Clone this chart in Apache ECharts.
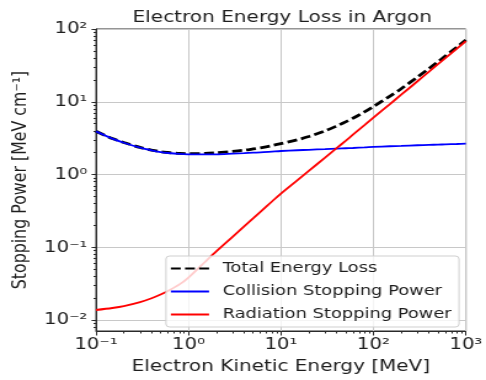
<!DOCTYPE html>
<html>
<head>
<meta charset="utf-8">
<script src="https://cdn.jsdelivr.net/npm/echarts@6/dist/echarts.min.js"></script>
<style>
  html, body { margin: 0; padding: 0; background: #ffffff; overflow: hidden; }
  /* the figure is laid out at a narrower width and widened to 486px */
  #chart { width: 395px; height: 380px; transform: scaleX(1.2304); transform-origin: 0 0; }
</style>
</head>
<body>
<div id="chart"></div>
<script>
// Electron kinetic energy (MeV)
const energyMeV = [0.1, 0.15, 0.2, 0.3, 0.4, 0.5, 0.6, 0.8, 1, 1.5, 2, 3, 4, 5, 6, 8,
  10, 15, 20, 30, 40, 50, 60, 80, 100, 150, 200, 300, 400, 500, 600, 800, 1000];

// Stopping powers in liquid argon (MeV cm^-1)
const totalLoss = [3.93, 3.13, 2.76, 2.36, 2.17, 2.06, 2.01, 1.95, 1.94, 1.95, 1.99, 2.08, 2.16, 2.25, 2.33, 2.50,
  2.66, 3.00, 3.33, 3.98, 4.65, 5.30, 5.95, 7.25, 8.60, 11.9, 15.1, 21.9, 28.6, 35.5, 42.4, 56.4, 70.7];
const collisionPower = [3.92, 3.12, 2.74, 2.34, 2.15, 2.04, 1.98, 1.92, 1.90, 1.89, 1.90, 1.94, 1.97, 2.00, 2.02, 2.07,
  2.11, 2.16, 2.19, 2.24, 2.28, 2.30, 2.32, 2.36, 2.40, 2.45, 2.48, 2.53, 2.56, 2.58, 2.60, 2.63, 2.66];
const radiationPower = [0.0138, 0.0147, 0.0156, 0.0177, 0.0200, 0.0225, 0.0252, 0.0310, 0.0385, 0.0625, 0.0879, 0.1395, 0.194, 0.250, 0.308, 0.427,
  0.549, 0.835, 1.125, 1.71, 2.305, 2.91, 3.53, 4.77, 6.04, 9.25, 12.5, 19.15, 25.9, 32.8, 39.7, 53.7, 68.0];

const seriesNames = ['Total Energy Loss', 'Collision Stopping Power', 'Radiation Stopping Power'];
const seriesColors = ['#000000', '#0000ff', '#ff0000'];

// Axis ranges and labelled decades
const xRange = [0.1, 1000];
const yRange = [0.0071, 100];
const xMajorTicks = [0.1, 1, 10, 100, 1000];
const yMajorTicks = [0.01, 0.1, 1, 10, 100];

// minor ticks at 2..9 times each decade inside the range
function minorTicks(lo, hi) {
  const out = [];
  for (let e = -3; e <= 3; e++) {
    for (let k = 2; k <= 9; k++) {
      const v = k * Math.pow(10, e);
      if (v > lo * 1.0001 && v < hi * 0.9999) out.push(v);
    }
  }
  return out;
}
const xMinorTicks = minorTicks(xRange[0], xRange[1]);
const yMinorTicks = minorTicks(yRange[0], yRange[1]);

const SUP = { '-': '\u207B', '0': '\u2070', '1': '\u00B9', '2': '\u00B2', '3': '\u00B3' };
function powerLabel(v) {
  const e = Math.round(Math.log10(v));
  return '10' + String(e).split('').map(c => SUP[c]).join('');
}

const FONT = 'DejaVu Sans';
const INK = '#1e1e1e';
const SPINE = '#2a2a2a';
const GRID = '#c8c8c8';

function pairs(ys) { return energyMeV.map((e, i) => [e, ys[i]]); }

function majorAxis(dim, range, ticks, extra) {
  return Object.assign({
    type: 'log', logBase: 10, min: range[0], max: range[1], gridIndex: 0,
    axisLine: { show: true, onZero: false, lineStyle: { color: SPINE, width: 1 } },
    axisTick: { show: true, customValues: ticks, length: dim === 'x' ? 4.5 : 3.6, lineStyle: { color: SPINE, width: 1 } },
    axisLabel: { customValues: ticks, formatter: powerLabel, fontSize: 16, color: INK, fontFamily: FONT },
    splitLine: { show: true, lineStyle: { color: GRID, width: 1 } },
    minorTick: { show: false }, minorSplitLine: { show: false }
  }, extra);
}
function minorAxis(range, ticks, position, len) {
  return {
    type: 'log', logBase: 10, min: range[0], max: range[1], gridIndex: 0, position: position,
    axisLine: { show: false },
    axisTick: { show: true, customValues: ticks, length: len, lineStyle: { color: SPINE, width: 1 } },
    axisLabel: { show: false },
    splitLine: { show: false }
  };
}

function lineSeries(i, ys, lineStyle) {
  return {
    name: seriesNames[i], type: 'line', data: pairs(ys),
    xAxisIndex: 0, yAxisIndex: 0,
    symbol: 'none', showSymbol: false, smooth: 0.3,
    itemStyle: { color: seriesColors[i] },
    lineStyle: Object.assign({ color: seriesColors[i] }, lineStyle)
  };
}

const chart = echarts.init(document.getElementById('chart'), null, { renderer: 'canvas' });
chart.setOption({
  backgroundColor: '#ffffff',
  animation: false,
  title: {
    text: 'Electron Energy Loss in Argon',
    left: 224.4, top: 5, textAlign: 'center',
    textStyle: { fontSize: 16.3, fontWeight: 'normal', color: INK, fontFamily: FONT }
  },
  grid: {
    left: 78, right: 13.6, top: 29, bottom: 46.7,
    show: true, borderColor: SPINE, borderWidth: 1, backgroundColor: 'transparent'
  },
  legend: {
    orient: 'vertical', left: 134.9, top: 256,
    data: seriesNames,
    itemWidth: 31, itemHeight: 14, itemGap: 8,
    padding: [5, 6, 5, 3],
    backgroundColor: 'rgba(255,255,255,0.8)',
    borderColor: '#cfcfcf', borderWidth: 1, borderRadius: 3,
    itemStyle: { opacity: 0 },
    textStyle: { fontSize: 14.5, color: INK, fontFamily: FONT, padding: [0, 0, 0, 6] }
  },
  xAxis: [
    majorAxis('x', xRange, xMajorTicks, {
      position: 'bottom',
      name: 'Electron Kinetic Energy [MeV]', nameLocation: 'middle', nameGap: 28,
      nameTextStyle: { fontSize: 16.3, color: INK, fontFamily: FONT },
      axisLabel: { customValues: xMajorTicks, formatter: powerLabel, fontSize: 16, color: INK, fontFamily: FONT, margin: 6 }
    }),
    minorAxis(xRange, xMinorTicks, 'bottom', 2.5)
  ],
  yAxis: [
    majorAxis('y', yRange, yMajorTicks, {
      position: 'left',
      name: 'Stopping Power [MeV cm\u207B\u00B9]', nameLocation: 'middle', nameGap: 51.5,
      nameTextStyle: { fontSize: 15.8, color: INK, fontFamily: FONT },
      axisLabel: { customValues: yMajorTicks, formatter: powerLabel, fontSize: 16, color: INK, fontFamily: FONT, margin: 7 }
    }),
    minorAxis(yRange, yMinorTicks, 'left', 2)
  ],
  series: [
    lineSeries(0, totalLoss, { width: 2.8, type: [8, 3.5] }),
    lineSeries(1, collisionPower, { width: 1.8 }),
    lineSeries(2, radiationPower, { width: 1.8 })
  ]
});
</script>
</body>
</html>
